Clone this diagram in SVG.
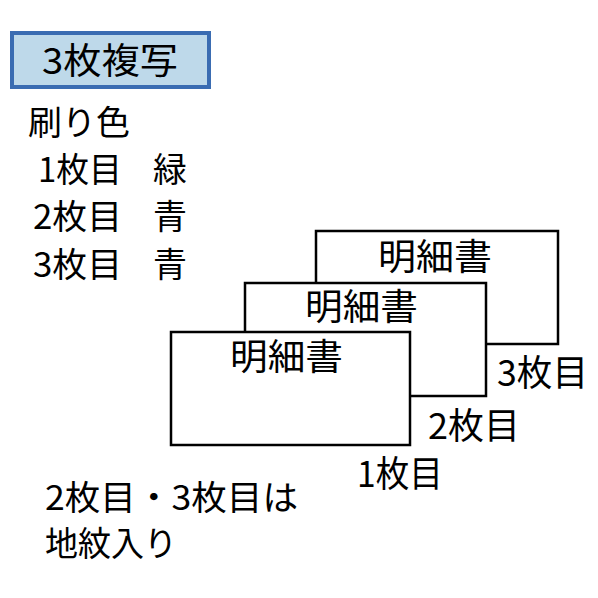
<svg xmlns="http://www.w3.org/2000/svg" width="598" height="598" viewBox="0 0 598 598">
<style>
text{font-family:"Noto Sans CJK JP","Noto Sans CJK SC",sans-serif;fill:#000;}
.t{font-size:34px;}
.m{font-size:36px;}
.sheet{fill:#fff;stroke:#000;stroke-width:2.5;}
</style>
<rect width="598" height="598" fill="#fff"/>
<g id="title">
<rect x="12" y="33" width="197" height="54" fill="#bed9ea" stroke="#3a6cb2" stroke-width="4"/>
<text x="42" y="74" font-size="36" textLength="136" lengthAdjust="spacingAndGlyphs">3枚複写</text>
</g>
<g id="legend">
<text class="t" x="28" y="135" textLength="102" lengthAdjust="spacingAndGlyphs">刷り色</text>
<text class="t" x="38" y="182"><tspan textLength="84" lengthAdjust="spacingAndGlyphs">1枚目</tspan><tspan x="153">緑</tspan></text>
<text class="t" x="33" y="229"><tspan textLength="89" lengthAdjust="spacingAndGlyphs">2枚目</tspan><tspan x="153">青</tspan></text>
<text class="t" x="33" y="277"><tspan textLength="89" lengthAdjust="spacingAndGlyphs">3枚目</tspan><tspan x="153">青</tspan></text>
</g>
<g id="sheet3">
<rect class="sheet" x="316" y="231" width="242" height="113"/>
<text class="m" x="378" y="270" textLength="114" lengthAdjust="spacingAndGlyphs">明細書</text>
<text class="m" x="497" y="386" textLength="91" lengthAdjust="spacingAndGlyphs">3枚目</text>
</g>
<g id="sheet2">
<rect class="sheet" x="245" y="283" width="241" height="113"/>
<text class="m" x="305" y="320" textLength="113" lengthAdjust="spacingAndGlyphs">明細書</text>
<text class="m" x="428" y="439" textLength="92" lengthAdjust="spacingAndGlyphs">2枚目</text>
</g>
<g id="sheet1">
<rect class="sheet" x="171" y="332" width="239" height="113"/>
<text class="m" x="230" y="370" textLength="113" lengthAdjust="spacingAndGlyphs">明細書</text>
<text class="m" x="357" y="487" textLength="86" lengthAdjust="spacingAndGlyphs">1枚目</text>
</g>
<g id="note">
<text class="t" x="45" y="510" textLength="253" lengthAdjust="spacingAndGlyphs">2枚目・3枚目は</text>
<text class="t" x="45" y="556" textLength="132" lengthAdjust="spacingAndGlyphs">地紋入り</text>
</g>
</svg>
